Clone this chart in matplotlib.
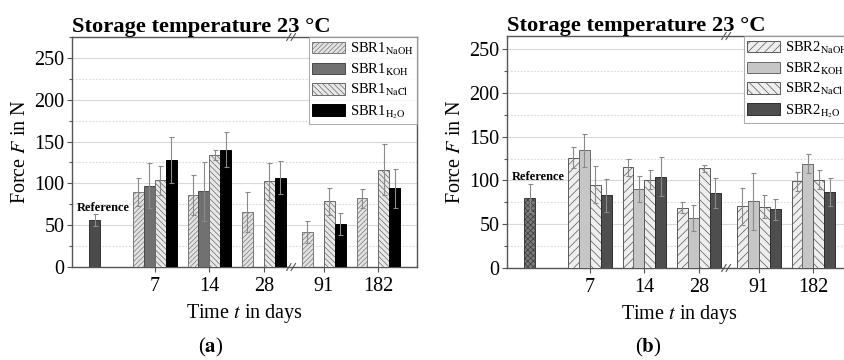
import numpy as np
import matplotlib
matplotlib.use("Agg")
import matplotlib.pyplot as plt
from matplotlib.ticker import MultipleLocator

plt.rcParams['font.family'] = ['Liberation Serif', 'DejaVu Serif']
plt.rcParams['mathtext.fontset'] = 'stix'
plt.rcParams['hatch.linewidth'] = 0.5

# ---------------- data ----------------
days = ['7', '14', '28', '91', '182']
group_pos = [1.0, 2.0, 3.0, 4.1, 5.1]
ref_pos = -0.1
break_pos = 3.52

# Panel (a) SBR1
a_labels = [r'SBR1$_{\mathrm{NaOH}}$', r'SBR1$_{\mathrm{KOH}}$',
            r'SBR1$_{\mathrm{NaCl}}$', r'SBR1$_{\mathrm{H_2O}}$']
a_ref, a_ref_err = 56, 7
a_naoh = [90, 86, 66, 42, 82]
a_naoh_err = [17, 24, 24, 13, 11]
a_koh = [97, 90.5, np.nan, np.nan, np.nan]
a_koh_err = [27, 35, np.nan, np.nan, np.nan]
a_nacl = [103.5, 134, 102.5, 78.5, 116.5]
a_nacl_err = [17, 6, 22, 16.5, 30]
a_h2o = [128, 140, 107, 51, 94]
a_h2o_err = [28, 21, 20, 13, 23]

# Panel (b) SBR2
b_labels = [r'SBR2$_{\mathrm{NaOH}}$', r'SBR2$_{\mathrm{KOH}}$',
            r'SBR2$_{\mathrm{NaCl}}$', r'SBR2$_{\mathrm{H_2O}}$']
b_ref, b_ref_err = 80, 16
b_naoh = [126, 115, 69, 70.5, 99]
b_naoh_err = [12, 10, 6.5, 21, 11]
b_koh = [134.5, 90, 57.5, 76, 119]
b_koh_err = [19, 15, 15, 33, 11]
b_nacl = [95, 101, 114, 70, 101]
b_nacl_err = [21, 11, 4, 13, 11]
b_h2o = [83, 104.5, 86, 67, 87]
b_h2o_err = [19, 22, 17, 12, 16]

W, H = 844, 360
fig = plt.figure(figsize=(W / 100, H / 100), dpi=100)

def fx(px):
    return px / W

def fy(py):
    return 1 - py / H

ax_a = fig.add_axes([fx(72), fy(267), fx(417 - 72), fy(37) - fy(267)])
ax_b = fig.add_axes([fx(507), fy(268), fx(852 - 507), fy(36) - fy(268)])

bw = 0.2
offsets = [-1.5 * bw, -0.5 * bw, 0.5 * bw, 1.5 * bw]
err_kw = dict(ecolor='#8a8a8a', elinewidth=0.8, capsize=1.8, capthick=0.8)


def panel(ax, series, errs, styles, labels, ref, ref_err, ref_style, ylim, ref_text_y):
    for k in range(4):
        x = np.array(group_pos) + offsets[k]
        st = styles[k]
        ax.bar(x, series[k], bw, yerr=errs[k], color=st['fc'], edgecolor=st['ec'],
               hatch=st.get('hatch'), linewidth=0.7, label=labels[k],
               error_kw=err_kw, zorder=3)
    ax.bar([ref_pos], [ref], bw, yerr=[ref_err], color=ref_style['fc'],
           edgecolor=ref_style['ec'], hatch=ref_style.get('hatch'), linewidth=0.7,
           error_kw=err_kw, zorder=3)
    ax.text(ref_pos + 0.15, ref_text_y, 'Reference', ha='center', va='center',
            fontsize=9, fontweight='bold', zorder=5)
    ax.set_xlim(-0.52, 5.81)
    ax.set_ylim(*ylim)
    ax.set_xticks(group_pos)
    ax.set_xticklabels(days)
    ax.yaxis.set_major_locator(MultipleLocator(50))
    ax.yaxis.set_minor_locator(MultipleLocator(25))
    ax.grid(axis='y', which='major', color='#d9d9d9', linewidth=0.8, zorder=0)
    ax.grid(axis='y', which='minor', color='#d9d9d9', linewidth=0.8,
            linestyle=(0, (1.5, 1.5)), zorder=0)
    ax.set_axisbelow(True)
    ax.tick_params(axis='both', which='major', labelsize=14.5, length=3.5,
                   width=0.8, color='#555555', pad=2)
    ax.tick_params(axis='y', which='minor', length=2, width=0.8, color='#555555')
    ax.tick_params(axis='x', which='major', pad=4)
    for s in ax.spines.values():
        s.set_color('#555555')
        s.set_linewidth(1.0)
    ax.set_xlabel(r'Time $t$ in days', fontsize=14.5, labelpad=4)
    ax.set_ylabel(r'Force $F$ in N', fontsize=14.5, labelpad=3)
    ax.set_title('Storage temperature 23 °C', loc='left', fontsize=16.2,
                 fontweight='bold', pad=3)
    # axis break marks
    for yy in (0, 1):
        for dx in (-0.06, 0.02):
            ax.plot([break_pos + dx - 0.04, break_pos + dx + 0.04],
                    [yy - 0.015, yy + 0.015], transform=ax.get_xaxis_transform(),
                    color='#555555', lw=0.8, clip_on=False, zorder=6)
    leg = ax.legend(loc='upper right', borderaxespad=0, fontsize=10.5,
                    handlelength=2.2, handleheight=0.85, handletextpad=0.35,
                    labelspacing=0.32, borderpad=0.25, frameon=True, fancybox=False)
    leg.get_frame().set_edgecolor('#999999')
    leg.get_frame().set_linewidth(0.8)


styles_a = [dict(fc='#e2e2e2', ec='#7a7a7a', hatch='///////'),
            dict(fc='#717171', ec='#4a4a4a'),
            dict(fc='#e8e8e8', ec='#6a6a6a', hatch='\\\\\\\\\\\\'),
            dict(fc='#000000', ec='#000000')]
styles_b = [dict(fc='#eeeeee', ec='#5a5a5a', hatch='////'),
            dict(fc='#c6c6c6', ec='#6a6a6a'),
            dict(fc='#eeeeee', ec='#5a5a5a', hatch='\\\\\\\\'),
            dict(fc='#4e4e4e', ec='#2e2e2e')]

panel(ax_a, [a_naoh, a_koh, a_nacl, a_h2o],
      [a_naoh_err, a_koh_err, a_nacl_err, a_h2o_err], styles_a, a_labels,
      a_ref, a_ref_err, dict(fc='#4b4b4b', ec='#333333'), (0, 275), 70)
panel(ax_b, [b_naoh, b_koh, b_nacl, b_h2o],
      [b_naoh_err, b_koh_err, b_nacl_err, b_h2o_err], styles_b, b_labels,
      b_ref, b_ref_err, dict(fc='#7a7a7a', ec='#3a3a3a', hatch='xxxxxx'), (0, 265), 104)

fig.text(fx(211), fy(347), r'($\mathbf{a}$)', ha='center', va='center', fontsize=15)
fig.text(fx(648), fy(347), r'($\mathbf{b}$)', ha='center', va='center', fontsize=15)

fig.savefig('out.png', dpi=100)
